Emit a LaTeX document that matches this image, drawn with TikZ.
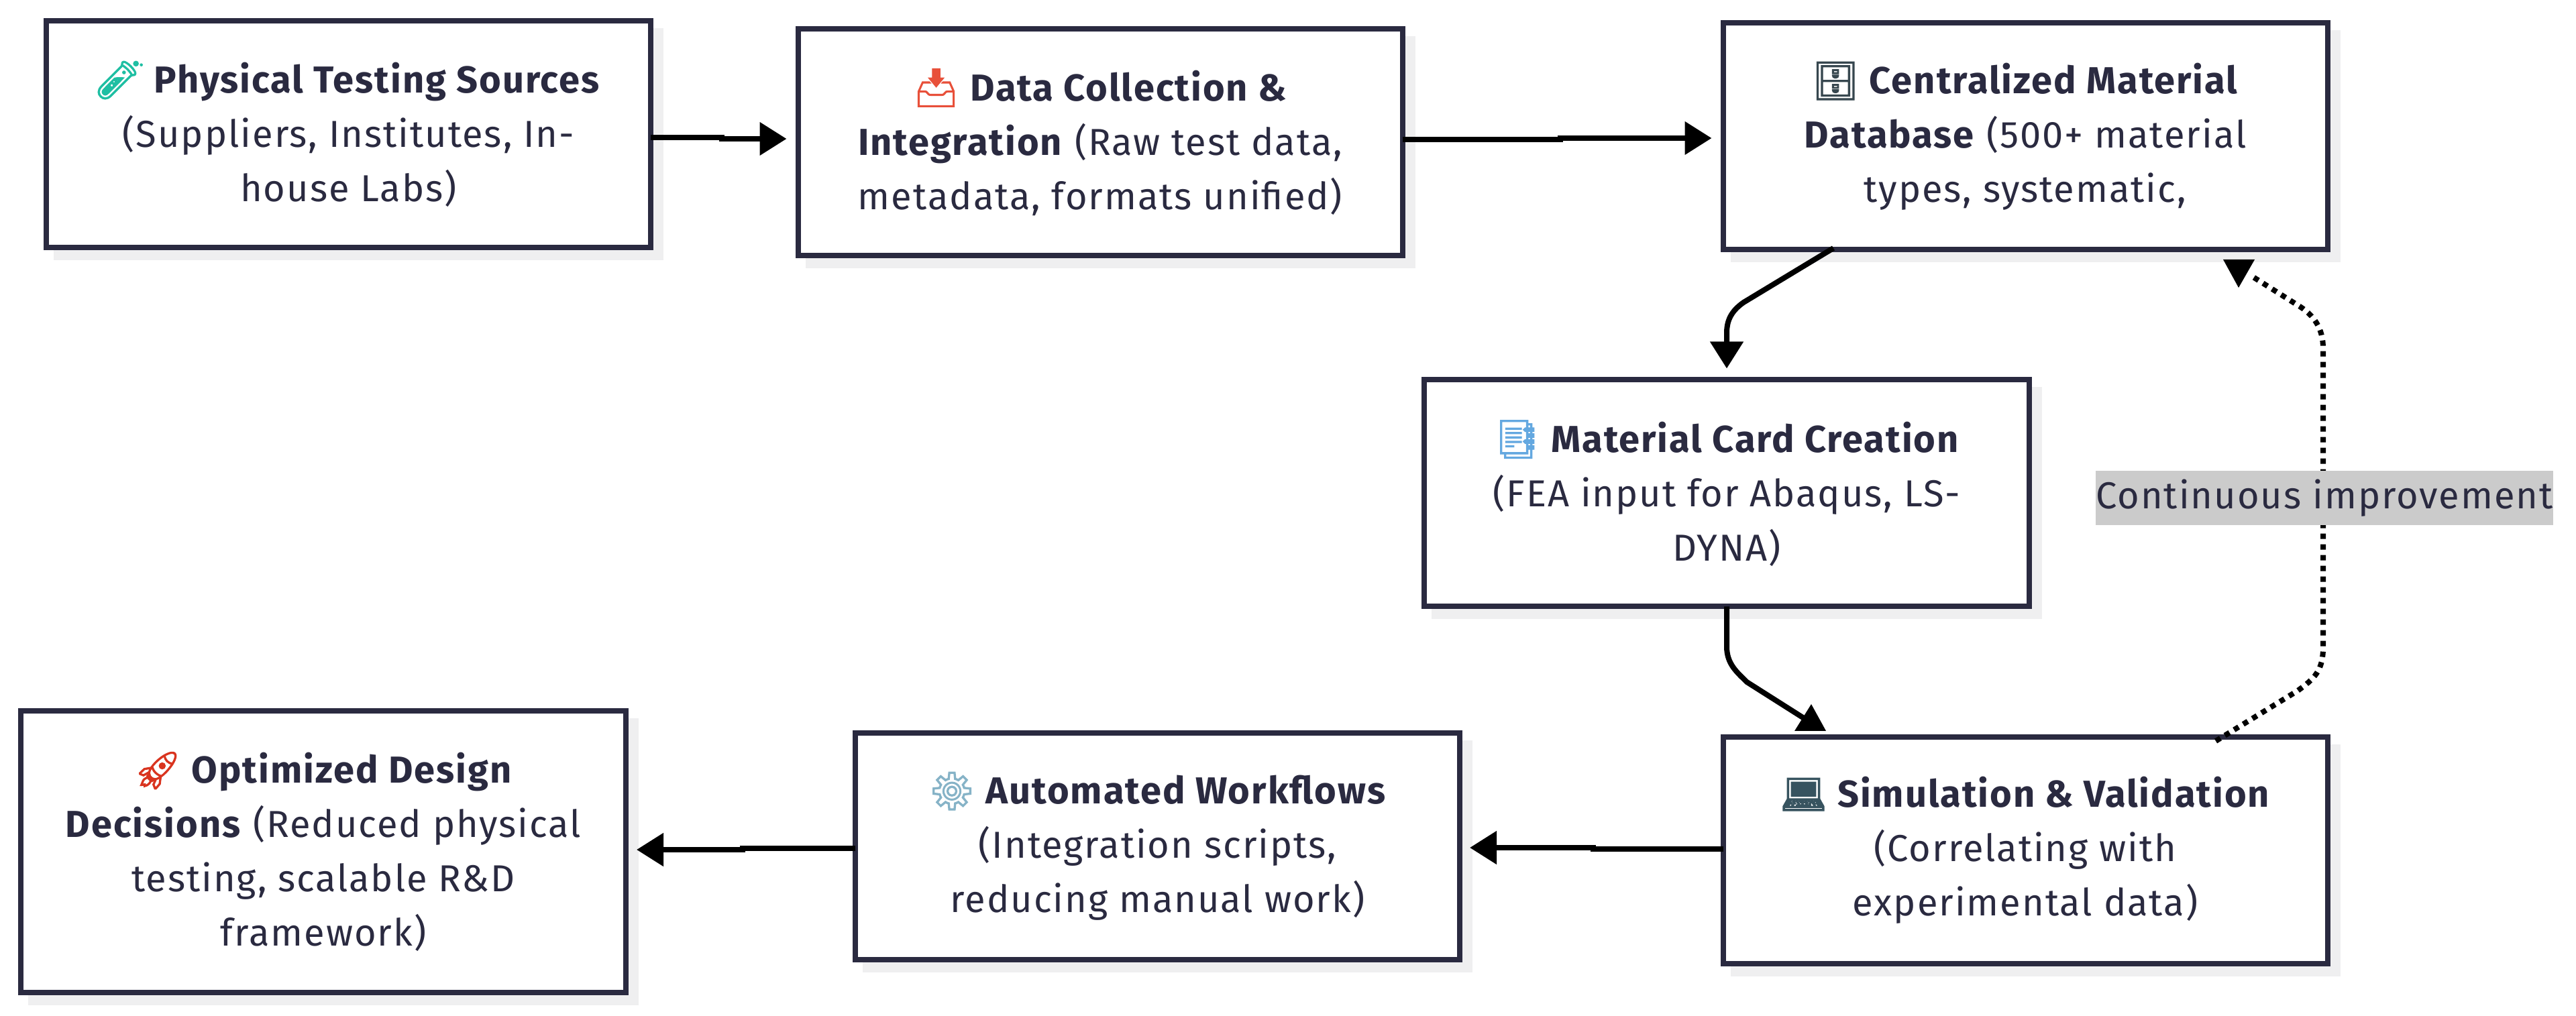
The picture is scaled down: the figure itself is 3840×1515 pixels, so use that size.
\documentclass[tikz,border=0pt]{standalone}
\usepackage{fontspec}
\setmainfont[LetterSpace=3.5]{Fira Sans}
\newfontfamily\emojifont[FakeBold=2]{Noto Emoji}
\usetikzlibrary{arrows.meta,calc,shadows}
\definecolor{ink}{HTML}{2A2A40}
\definecolor{shadowgrey}{HTML}{EFEFF0}
\definecolor{labelgrey}{HTML}{CBCBCB}
\newcommand{\emo}[2]{{\emojifont\mdseries\textcolor[HTML]{#1}{#2}}}
\tikzset{
  box/.style={draw=ink,line width=2pt,fill=white,outer sep=0pt,inner sep=0pt,
    minimum width=225.25pt,minimum height=84.5pt,align=center,text=ink,
    font=\fontsize{14}{20.25}\selectfont,
    general shadow={fill=shadowgrey,draw=shadowgrey,line width=2pt,shadow xshift=3.75pt,shadow yshift=-3.75pt}},
  conn/.style={draw=black,line width=2pt},
  arrowed/.style={conn,-{Triangle[length=10pt,width=12pt]}},
  dots/.style={draw=black,line width=2pt,dash pattern=on 2pt off 2pt},
  tiphead/.style={fill=black,draw=none},
  lbl/.style={fill=labelgrey,text=ink,inner sep=0pt,outer sep=0pt,minimum width=169pt,minimum height=20.25pt,
    font=\fontsize{14}{20.25}\selectfont}
}
\begin{document}
\begin{tikzpicture}[x=0.25pt,y=-0.25pt]
\useasboundingbox (0,0) rectangle (3840,1515);
\node[box] (src) at (519.5,200) {\textbf{\emo{1FBFA3}{🧪} Physical Testing Sources}\\(Suppliers, Institutes, In-\\house Labs)};
\node[box] (col) at (1640,212) {\textbf{\emo{E8503A}{📥} Data Collection \&}\\\textbf{Integration} (Raw test data,\\metadata, formats unified)};
\node[box] (dbs) at (3019,203) {\textbf{\emo{37474F}{🗄} Centralized Material}\\\textbf{Database} (500+ material\\types, systematic,};
\node[box,minimum width=225.5pt] (crd) at (2574,735.5) {\textbf{\emo{64A8E0}{📑} Material Card Creation}\\(FEA input for Abaqus, LS-\\DYNA)};
\node[box] (sim) at (3019,1268) {\textbf{\emo{37535F}{💻} Simulation \& Validation}\\(Correlating with\\experimental data)};
\node[box] (wfl) at (1725.5,1262) {\textbf{\emo{86B3C7}{⚙} Automated Workflows}\\(Integration scripts,\\reducing manual work)};
\node[box,minimum width=225.5pt,minimum height=105pt] (dec) at (482,1270) {\textbf{\emo{D9341F}{🚀} Optimized Design}\\\textbf{Decisions} (Reduced physical\\testing, scalable R\&D\\framework)};
% straight connectors with a small kink
\draw[arrowed] (src.east) ++(0,5) -- ++(106,0) -- ++(0,2) -- ($(col.west)+(-17,-5)$);
\draw[arrowed] (col.east) ++(0,-4) -- ++(235,0) -- ++(0,-2) -- ($(dbs.west)+(-17,3)$);
\draw[arrowed] (sim.west) ++(0,-2) -- ++(-194,0) -- ++(0,-2) -- ($(wfl.east)+(15,2)$);
\draw[arrowed] (wfl.west) ++(0,3) -- ++(-168,0) -- ++(0,2) -- ($(dec.east)+(16,-3)$);
% curved connectors
\draw[arrowed] (dbs.south) ++(-286,-2) -- ++(-134,81) .. controls ++(-20,14) and (2574,480) .. ($(crd.north)+(0,-70)$) -- ($(crd.north)+(0,-17)$);
\coordinate (dbtip) at ($(dbs.south)+(318,57)$);
\coordinate (simtip) at ($(sim.north)+(-319,-49)$);
\draw[conn] (crd.south) -- ++(0,60) .. controls ++(0,26) and (2590,1003) .. (2604,1017) -- ($(sim.north)+(-322,-23)$);
\fill[tiphead] (simtip) -- ++(-25,40) -- ++(47,0) -- cycle;
% feedback
\draw[dots] (sim.north) ++(284,6) -- (3425,1030) .. controls (3450,1012) and (3463,1000) .. (3463,965) -- (3463,520) .. controls (3463,490) and (3450,470) .. (3425,455) -- ($(dbs.south)+(338,40)$);
\fill[tiphead] (dbtip) -- ++(-23,-42) -- ++(47,0) -- cycle;
\node[lbl] (imp) at (3465,743) {Continuous improvement};
\end{tikzpicture}
\end{document}
